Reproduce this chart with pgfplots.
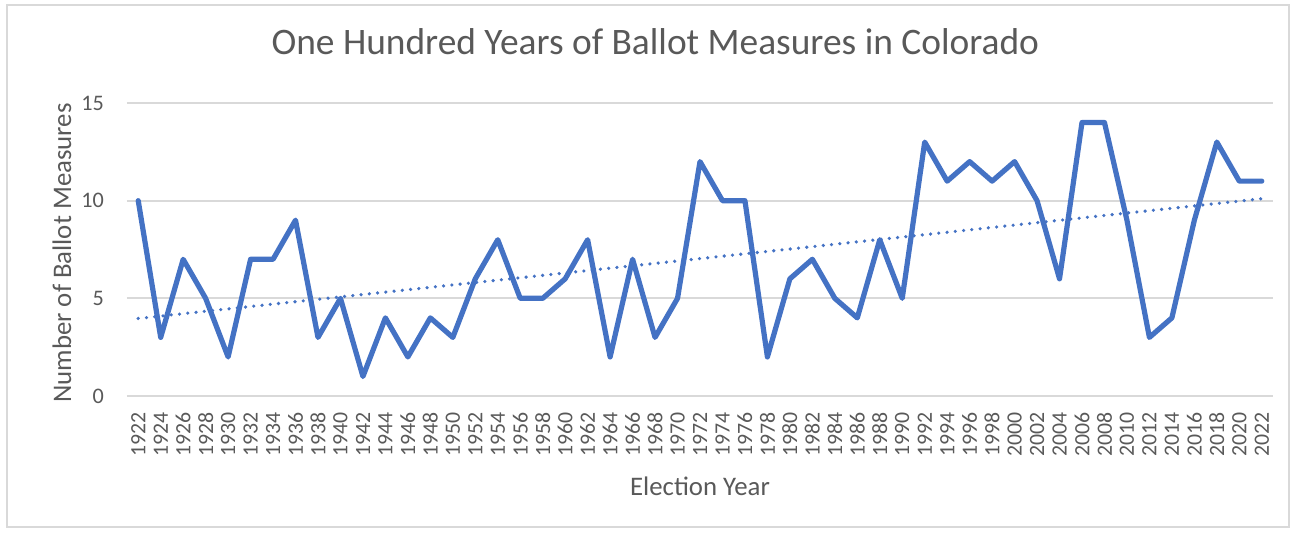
\documentclass[border=0pt]{standalone}
\usepackage{pgfplots}
\pgfplotsset{compat=1.18}
\usepackage{fontspec}
\setmainfont{Carlito}
\definecolor{txt}{HTML}{595959}
\definecolor{grd}{HTML}{D9D9D9}
\definecolor{ser}{HTML}{4472C4}
\begin{document}
\begin{tikzpicture}[x=1pt,y=1pt]
\begin{axis}[
  at={(0,0)}, anchor=south west,
  scale only axis, width=573pt, height=146.5pt,
  xmin=1921, xmax=2023, ymin=0, ymax=15,
  axis line style={draw=none},
  ymajorgrids, grid style={grd, line width=0.9pt},
  major tick length=0pt,
  xtick={1922,1924,...,2022},
  ytick={0,5,10,15},
  /pgf/number format/assume math mode=true,
  /pgf/number format/1000 sep={},
  xticklabel style={rotate=90, anchor=east, font=\fontsize{10.9}{13}\selectfont, text=txt, xshift=-4.5pt},
  yticklabel style={font=\fontsize{11.1}{13}\selectfont, text=txt, xshift=-8pt},
  title={One Hundred Years of Ballot Measures in Colorado},
  title style={at={(0.461,1.17)}, anchor=center, font=\fontsize{18.7}{22}\selectfont, text=txt},
  xlabel={Election Year},
  xlabel style={at={(0.5,-0.307)}, anchor=center, font=\fontsize{13.4}{16}\selectfont, text=txt},
  ylabel={Number of Ballot Measures},
  ylabel style={at={(-0.0567,0.488)}, anchor=center, rotate=0, font=\fontsize{13.4}{16}\selectfont, text=txt},
  clip=false,
]
\addplot[ser, line width=2.6pt, line join=round, line cap=round] coordinates {
(1922,10)(1924,3)(1926,7)(1928,5)(1930,2)(1932,7)(1934,7)(1936,9)(1938,3)(1940,5)
(1942,1)(1944,4)(1946,2)(1948,4)(1950,3)(1952,6)(1954,8)(1956,5)(1958,5)(1960,6)
(1962,8)(1964,2)(1966,7)(1968,3)(1970,5)(1972,12)(1974,10)(1976,10)(1978,2)(1980,6)
(1982,7)(1984,5)(1986,4)(1988,8)(1990,5)(1992,13)(1994,11)(1996,12)(1998,11)(2000,12)
(2002,10)(2004,6)(2006,14)(2008,14)(2010,9)(2012,3)(2014,4)(2016,9)(2018,13)(2020,11)
(2022,11)};
\addplot[ser, line width=1.8pt, line cap=round, dash pattern=on 0pt off 4.15pt] coordinates {
(1922,3.97)(2022,10.10)};
\end{axis}
\draw[grd, line width=0.9pt] (-60,-65.5) rectangle (581,195.5);
\path (-63.5,-68) rectangle (587.5,198);
\end{tikzpicture}
\end{document}
